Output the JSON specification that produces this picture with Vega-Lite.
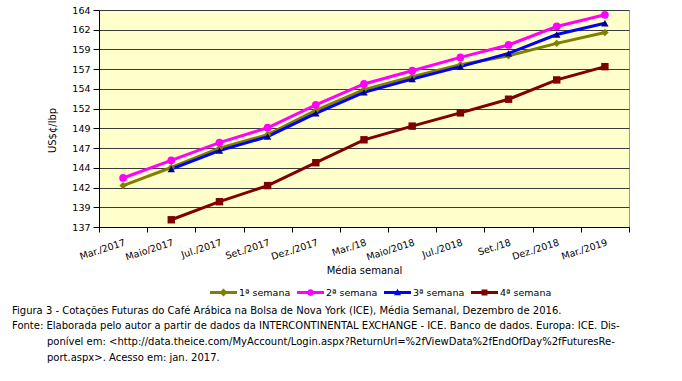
{
  "$schema": "https://vega.github.io/schema/vega-lite/v6.json",
  "width": 530,
  "height": 217,
  "autosize": {"type": "none"},
  "padding": {"left": 99, "top": 10, "right": 53, "bottom": 154},
  "background": "white",
  "config": {
    "font": "DejaVu Sans",
    "view": {"fill": "#FFFFCC", "stroke": "#9a9a9a", "strokeWidth": 1},
    "axis": {"labelFont": "DejaVu Sans", "titleFont": "DejaVu Sans", "labelColor": "#000", "titleColor": "#000", "titleFontWeight": "normal", "domainColor": "#000", "tickColor": "#000"}
  },
  "title": {
    "text": "Figura 3 - Cotações Futuras do Café Arábica na Bolsa de Nova York (ICE), Média Semanal, Dezembro de 2016.",
    "subtitle": [
      "Fonte: Elaborada pelo autor a partir de dados da INTERCONTINENTAL EXCHANGE - ICE. Banco de dados. Europa: ICE. Dis-",
      "\u200b\u00a0\u00a0\u00a0\u00a0\u00a0\u00a0\u00a0\u00a0\u00a0\u00a0\u00a0ponível em: <http://data.theice.com/MyAccount/Login.aspx?ReturnUrl=%2fViewData%2fEndOfDay%2fFuturesRe-",
      "\u200b\u00a0\u00a0\u00a0\u00a0\u00a0\u00a0\u00a0\u00a0\u00a0\u00a0\u00a0port.aspx>. Acesso em: jan. 2017."
    ],
    "orient": "bottom",
    "anchor": "start",
    "frame": "group",
    "dx": -87,
    "offset": 8,
    "dy": 1,
    "font": "DejaVu Sans",
    "fontSize": 10,
    "fontWeight": "normal",
    "color": "#000",
    "subtitleFont": "DejaVu Sans",
    "subtitleFontSize": 10,
    "subtitleColor": "#000",
    "subtitleLineHeight": 16,
    "subtitlePadding": 5
  },
  "data": {
    "values": [
      {"mes": "Mar./2017", "serie": "1ª semana", "valor": 142.15},
      {"mes": "Maio/2017", "serie": "1ª semana", "valor": 144.4},
      {"mes": "Jul./2017", "serie": "1ª semana", "valor": 146.8},
      {"mes": "Set./2017", "serie": "1ª semana", "valor": 148.5},
      {"mes": "Dez./2017", "serie": "1ª semana", "valor": 151.5},
      {"mes": "Mar./18", "serie": "1ª semana", "valor": 154.1},
      {"mes": "Maio/2018", "serie": "1ª semana", "valor": 155.7},
      {"mes": "Jul./2018", "serie": "1ª semana", "valor": 157.2},
      {"mes": "Set./18", "serie": "1ª semana", "valor": 158.3},
      {"mes": "Dez./2018", "serie": "1ª semana", "valor": 159.85},
      {"mes": "Mar./2019", "serie": "1ª semana", "valor": 161.2},
      {"mes": "Mar./2017", "serie": "2ª semana", "valor": 143.1},
      {"mes": "Maio/2017", "serie": "2ª semana", "valor": 145.3},
      {"mes": "Jul./2017", "serie": "2ª semana", "valor": 147.5},
      {"mes": "Set./2017", "serie": "2ª semana", "valor": 149.35},
      {"mes": "Dez./2017", "serie": "2ª semana", "valor": 152.2},
      {"mes": "Mar./18", "serie": "2ª semana", "valor": 154.8},
      {"mes": "Maio/2018", "serie": "2ª semana", "valor": 156.45},
      {"mes": "Jul./2018", "serie": "2ª semana", "valor": 158.1},
      {"mes": "Set./18", "serie": "2ª semana", "valor": 159.65},
      {"mes": "Dez./2018", "serie": "2ª semana", "valor": 161.95},
      {"mes": "Mar./2019", "serie": "2ª semana", "valor": 163.4},
      {"mes": "Maio/2017", "serie": "3ª semana", "valor": 144.2},
      {"mes": "Jul./2017", "serie": "3ª semana", "valor": 146.5},
      {"mes": "Set./2017", "serie": "3ª semana", "valor": 148.25},
      {"mes": "Dez./2017", "serie": "3ª semana", "valor": 151.15},
      {"mes": "Mar./18", "serie": "3ª semana", "valor": 153.75},
      {"mes": "Maio/2018", "serie": "3ª semana", "valor": 155.4},
      {"mes": "Jul./2018", "serie": "3ª semana", "valor": 156.95},
      {"mes": "Set./18", "serie": "3ª semana", "valor": 158.6},
      {"mes": "Dez./2018", "serie": "3ª semana", "valor": 160.95},
      {"mes": "Mar./2019", "serie": "3ª semana", "valor": 162.35},
      {"mes": "Maio/2017", "serie": "4ª semana", "valor": 137.9},
      {"mes": "Jul./2017", "serie": "4ª semana", "valor": 140.15},
      {"mes": "Set./2017", "serie": "4ª semana", "valor": 142.15},
      {"mes": "Dez./2017", "serie": "4ª semana", "valor": 145.0},
      {"mes": "Mar./18", "serie": "4ª semana", "valor": 147.85},
      {"mes": "Maio/2018", "serie": "4ª semana", "valor": 149.55},
      {"mes": "Jul./2018", "serie": "4ª semana", "valor": 151.2},
      {"mes": "Set./18", "serie": "4ª semana", "valor": 152.9},
      {"mes": "Dez./2018", "serie": "4ª semana", "valor": 155.3},
      {"mes": "Mar./2019", "serie": "4ª semana", "valor": 156.95}
    ]
  },
  "encoding": {
    "x": {
      "field": "mes",
      "type": "nominal",
      "sort": ["Mar./2017", "Maio/2017", "Jul./2017", "Set./2017", "Dez./2017", "Mar./18", "Maio/2018", "Jul./2018", "Set./18", "Dez./2018", "Mar./2019"],
      "scale": {"type": "band", "paddingInner": 0, "paddingOuter": 0},
      "axis": {
        "title": "Média semanal",
        "titleFontSize": 10,
        "titleY": 43,
        "titleBaseline": "middle",
        "labelAngle": -18,
        "labelAlign": "right",
        "labelBaseline": "top",
        "labelFontSize": 9.5,
        "labelPadding": 5,
        "labelDx": -5,
        "tickBand": "extent",
        "tickSize": 5,
        "grid": false,
        "domainColor": "#000"
      }
    },
    "y": {
      "field": "valor",
      "type": "quantitative",
      "scale": {"domain": [137, 164], "nice": false, "zero": false},
      "axis": {
        "title": "US$¢/lbp",
        "titleFontSize": 10,
        "titleX": -47,
        "titleY": 120,
        "titleAlign": "center",
        "titleBaseline": "middle",
        "values": [137, 139.4545, 141.9091, 144.3636, 146.8182, 149.2727, 151.7273, 154.1818, 156.6364, 159.0909, 161.5455, 164],
        "format": ".0f",
        "labelFontSize": 9.5,
        "labelPadding": 3,
        "tickSize": 6,
        "grid": true,
        "gridColor": "#3a3a3a",
        "gridWidth": 1,
        "gridOpacity": 1
      }
    }
  },
  "layer": [
    {
      "mark": {"type": "line", "strokeWidth": 3},
      "encoding": {
        "color": {
          "field": "serie",
          "type": "nominal",
          "scale": {"domain": ["1ª semana", "2ª semana", "3ª semana", "4ª semana"], "range": ["#808000", "#FF00FF", "#0000FF", "#800000"]},
          "legend": {
            "title": null,
            "orient": "none",
            "legendX": 111,
            "legendY": 269,
            "direction": "horizontal",
            "symbolSize": 729,
            "symbolStrokeWidth": 0,
            "labelFont": "DejaVu Sans",
            "labelFontSize": 9.5,
            "labelColor": "#000",
            "labelOffset": 2,
            "columnPadding": 6,
            "encode": {
              "symbols": {
                "update": {
                  "shape": {"signal": "datum.value === '1ª semana' ? 'M-1,-0.11H1V0.11H-1Z M0,-0.3L0.3,0L0,0.3L-0.3,0Z' : datum.value === '2ª semana' ? 'M-1,-0.11H1V0.11H-1Z M0.25,0A0.25,0.25 0 1,1 -0.25,0A0.25,0.25 0 1,1 0.25,0Z' : datum.value === '3ª semana' ? 'M-1,-0.11H1V0.11H-1Z M0,-0.28L0.26,0.2L-0.26,0.2Z' : 'M-1,-0.11H1V0.11H-1Z M-0.22,-0.22H0.22V0.22H-0.22Z'"},
                  "fill": {"scale": "color", "field": "value"},
                  "fillOpacity": {"value": 1},
                  "strokeWidth": {"value": 0}
                }
              }
            }
          }
        }
      }
    },
    {
      "transform": [{"filter": "datum.serie === '1ª semana'"}],
      "mark": {"type": "point", "filled": true, "opacity": 1, "size": 55, "shape": "diamond", "color": "#808000"}
    },
    {
      "transform": [{"filter": "datum.serie === '2ª semana'"}],
      "mark": {"type": "point", "filled": true, "opacity": 1, "size": 60, "shape": "circle", "color": "#FF00FF"}
    },
    {
      "transform": [{"filter": "datum.serie === '3ª semana'"}],
      "mark": {"type": "point", "filled": true, "opacity": 1, "size": 55, "shape": "triangle-up", "color": "#000080"}
    },
    {
      "transform": [{"filter": "datum.serie === '4ª semana'"}],
      "mark": {"type": "point", "filled": true, "opacity": 1, "size": 55, "shape": "square", "color": "#800000"}
    }
  ]
}
